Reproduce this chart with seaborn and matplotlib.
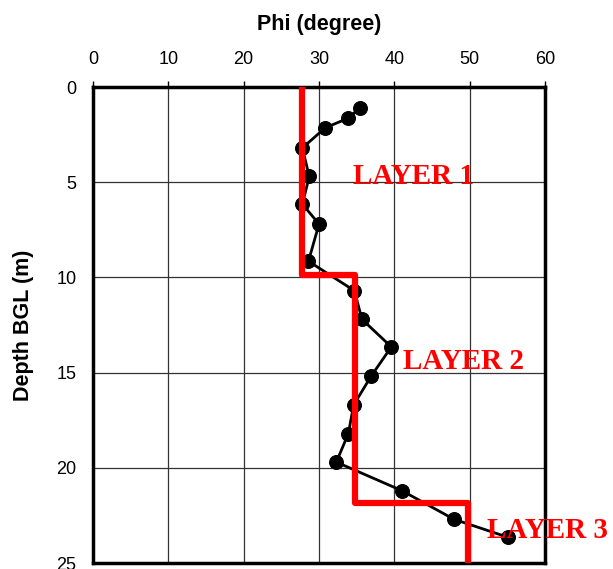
import matplotlib
matplotlib.use("Agg")
import matplotlib.pyplot as plt
import seaborn as sns
import pandas as pd

phi = [35.5, 33.8, 30.8, 27.8, 28.7, 27.8, 30.0, 28.6, 34.7, 35.7, 39.6, 36.9, 34.6, 33.9, 32.3, 41.0, 47.9, 55.1]
depth = [1.1, 1.65, 2.15, 3.2, 4.7, 6.15, 7.2, 9.15, 10.7, 12.2, 13.65, 15.2, 16.7, 18.2, 19.7, 21.2, 22.7, 23.65]

layer_phi = [27.8, 27.8, 34.8, 34.8, 49.8, 49.8]
layer_depth = [0, 9.9, 9.9, 21.85, 21.85, 25]

layer_labels = ["LAYER 1", "LAYER 2", "LAYER 3"]
layer_label_phi = [34.5, 41.15, 52.3]
layer_label_depth = [5.1, 14.8, 23.7]

x_ticks = [0, 10, 20, 30, 40, 50, 60]
y_ticks = [0, 5, 10, 15, 20, 25]

sns.set_style("white")
plt.rcParams['font.family'] = ['Liberation Sans', 'DejaVu Sans']

fig = plt.figure(figsize=(6.13, 5.69), dpi=100)
ax = fig.add_axes([93/613, 6/569, (545-93)/613, (563-87)/569])

df = pd.DataFrame({"phi": phi, "depth": depth})
ldf = pd.DataFrame({"phi": layer_phi, "depth": layer_depth})

sns.lineplot(data=df, x="phi", y="depth", sort=False, estimator=None, ax=ax,
             color="black", linewidth=2, marker="o", markersize=10,
             markeredgecolor="black", markerfacecolor="black", zorder=3)
sns.lineplot(data=ldf, x="phi", y="depth", sort=False, estimator=None, ax=ax,
             color="#ff0000", linewidth=4.5, zorder=4)

for lab, lx, ly in zip(layer_labels, layer_label_phi, layer_label_depth):
    ax.text(lx, ly, lab, color="#ff0000", fontsize=21, fontweight="bold",
            family="Liberation Serif", ha="left", va="baseline", clip_on=False, zorder=5)

ax.set_xlim(0, 60)
ax.set_ylim(25, 0)
ax.set_xticks(x_ticks)
ax.set_yticks(y_ticks)
ax.xaxis.tick_top()
ax.xaxis.set_label_position("top")
ax.tick_params(axis="both", direction="out", length=4, width=1, labelsize=13, colors="black")
ax.tick_params(axis="x", pad=10)
ax.tick_params(axis="y", pad=8)
ax.grid(True, color="#333333", linewidth=0.9)
ax.set_axisbelow(True)
for s in ax.spines.values():
    s.set_visible(True)
    s.set_color("black")
    s.set_linewidth(2.5)

ax.set_xlabel("Phi (degree)", fontsize=15.5, fontweight="bold", labelpad=14.5, color="black")
ax.set_ylabel("Depth BGL (m)", fontsize=15.5, fontweight="bold", labelpad=16, color="black")

fig.savefig("out.png", dpi=100)
